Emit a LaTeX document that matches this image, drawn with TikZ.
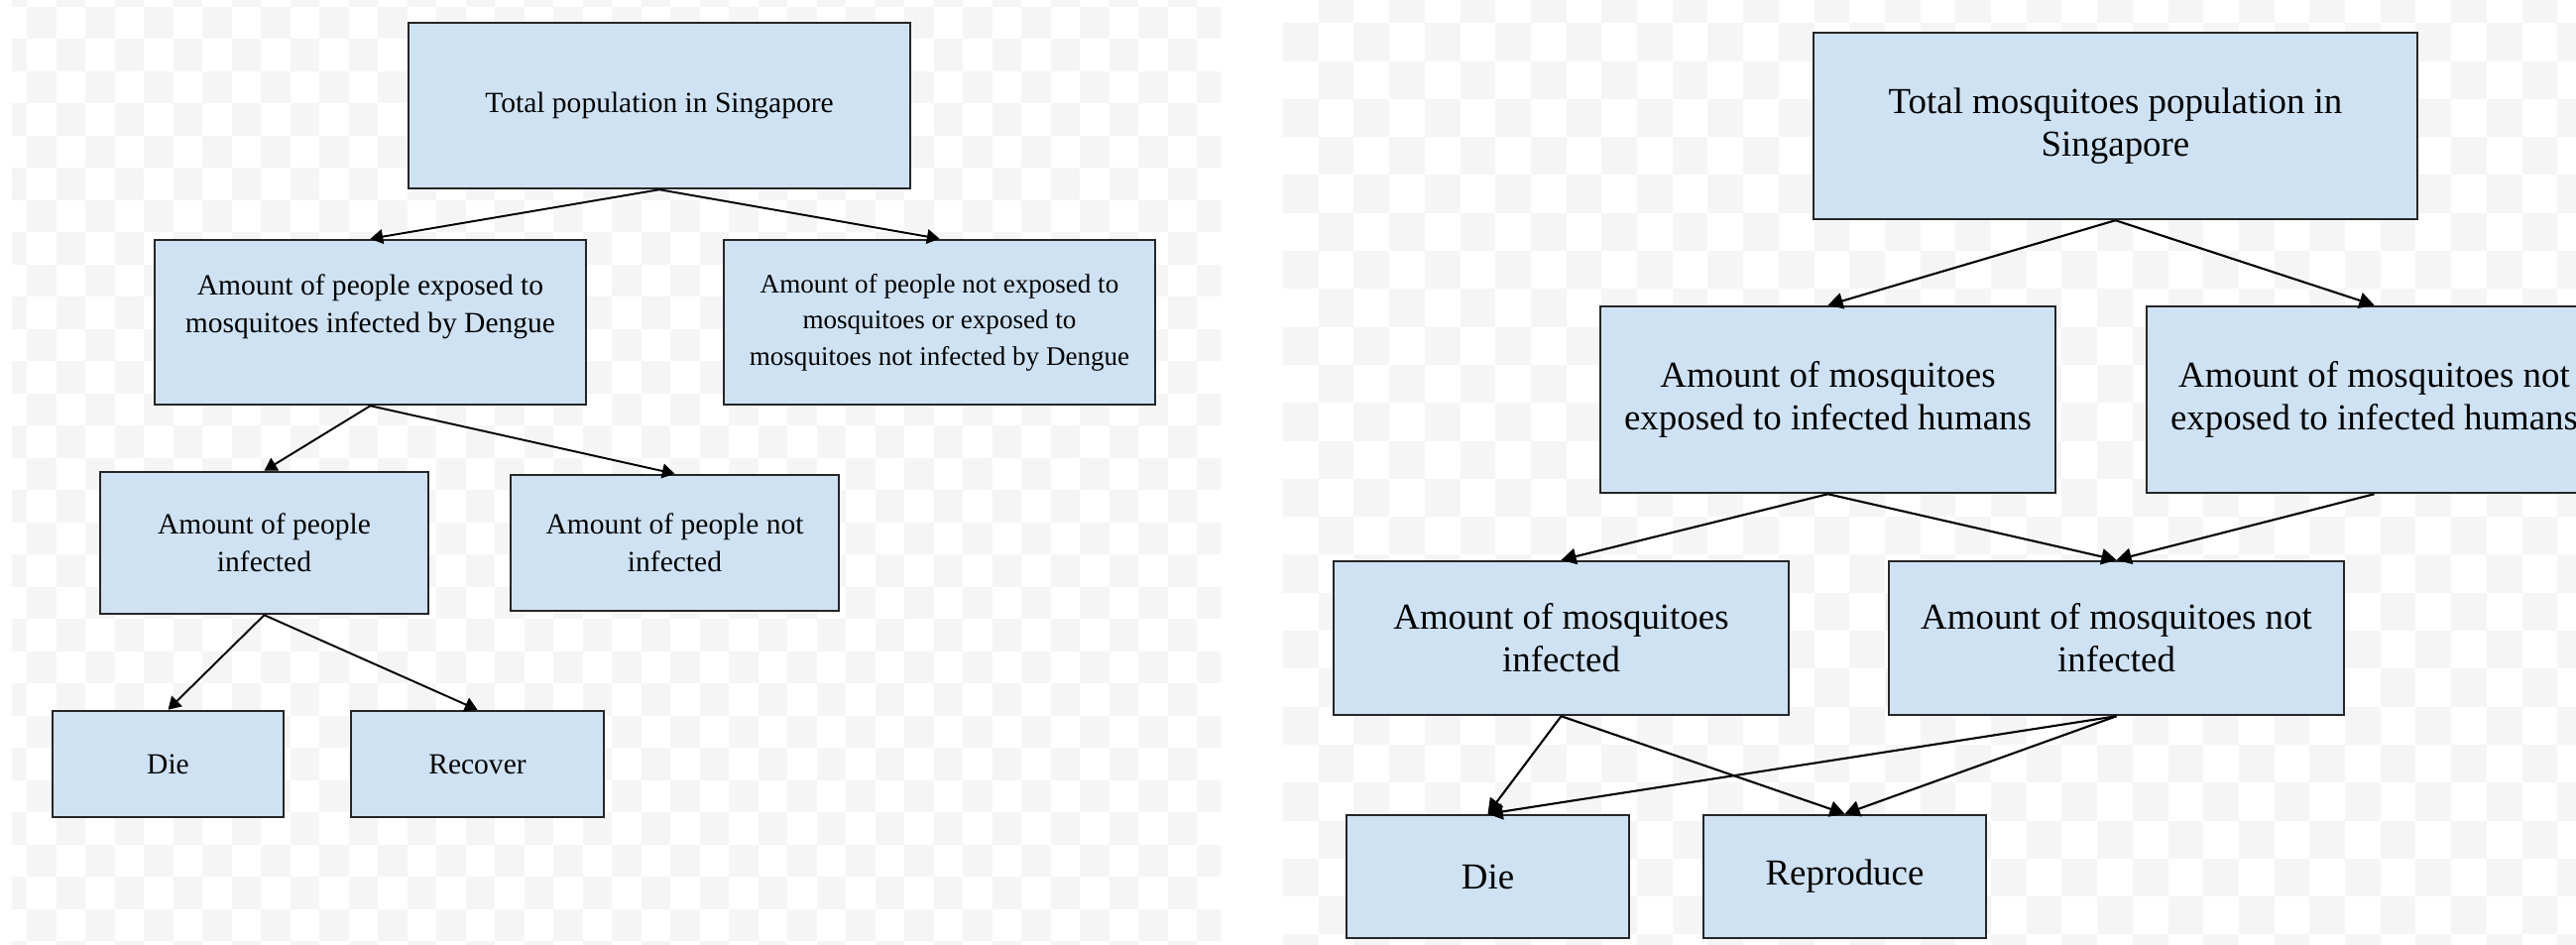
\documentclass[tikz,border=0pt]{standalone}
\usepackage{fontspec}
\setmainfont{Liberation Serif}
\usepackage{xcolor}
\usetikzlibrary{arrows.meta, positioning}

\definecolor{boxblue}{HTML}{CFE2F3}
\definecolor{checkgray}{HTML}{F5F5F5}

\tikzset{
  box/.style={draw=black!85, line width=0.7pt, fill=boxblue, align=center, inner sep=2pt},
  small/.style={box, font=\fontsize{8.4}{10.8}\selectfont},
  big/.style={box, font=\fontsize{10.5}{12.2}\selectfont},
  slink/.style={line width=0.55pt, -{Triangle[length=3.6pt, width=4.2pt]}},
  link/.style={line width=0.6pt, -{Triangle[length=4.3pt, width=4.6pt]}}
}

\begin{document}
\begin{tikzpicture}
  \useasboundingbox (0,0) rectangle (25.98,-9.53);
  \fill[white] (0,0) rectangle (25.98,-9.53);
  \begin{scope}
    \clip (0.12,0) rectangle (12.31,-9.53);
    \foreach \j in {0,...,30} \foreach \i in {0,2,...,42}
      \fill[checkgray] ({-0.025+(\i+mod(\j,2))*0.295},{0.255-\j*0.325}) rectangle ++(0.295,-0.325);
  \end{scope}
  \begin{scope}
    \clip (12.94,0) rectangle (25.98,-9.53);
    \foreach \j in {0,...,25} \foreach \i in {0,2,...,36}
      \fill[checkgray] ({12.94+(\i+1-mod(\j,2))*0.357},{0.15-\j*0.383}) rectangle ++(0.357,-0.383);
  \end{scope}

  % people
  \node[small, minimum width=5.06cm, minimum height=1.67cm] (tot) at (6.65,-1.065) {Total population in Singapore};
  \node[small, minimum width=4.35cm, minimum height=1.66cm, text depth=0.38cm] (pexp) at (3.735,-3.25) {Amount of people exposed to\\mosquitoes infected by Dengue};
  \node[small, font=\fontsize{7.7}{10.4}\selectfont, minimum width=4.35cm, minimum height=1.66cm] (pnot) at (9.475,-3.25) {Amount of people not exposed to\\mosquitoes or exposed to\\mosquitoes not infected by Dengue};
  \node[small, minimum width=3.31cm, minimum height=1.43cm] (pinf) at (2.665,-5.475) {Amount of people\\infected};
  \node[small, minimum width=3.31cm, minimum height=1.37cm] (pok) at (6.805,-5.475) {Amount of people not\\infected};
  \node[small, minimum width=2.33cm, minimum height=1.07cm] (pdie) at (1.695,-7.705) {Die};
  \node[small, minimum width=2.55cm, minimum height=1.07cm] (prec) at (4.815,-7.705) {Recover};

  \draw[slink] (tot.south) -- (pexp.north);
  \draw[slink] (tot.south) -- (pnot.north);
  \draw[slink] (pexp.south) -- (pinf.north);
  \draw[slink] (pexp.south) -- (pok.north);
  \draw[slink] (pinf.south) -- (pdie.north);
  \draw[slink] (pinf.south) -- (prec.north);

  % mosquitoes
  \node[big, minimum width=6.09cm, minimum height=1.88cm] (mtot) at (21.335,-1.27) {Total mosquitoes population in\\Singapore};
  \node[big, minimum width=4.59cm, minimum height=1.88cm] (mexp) at (18.435,-4.03) {Amount of mosquitoes\\exposed to infected humans};
  \node[big, minimum width=4.59cm, minimum height=1.88cm] (mnot) at (23.945,-4.03) {Amount of mosquitoes not\\exposed to infected humans};
  \node[big, minimum width=4.59cm, minimum height=1.55cm] (minf) at (15.745,-6.435) {Amount of mosquitoes\\infected};
  \node[big, minimum width=4.59cm, minimum height=1.55cm] (mok) at (21.345,-6.435) {Amount of mosquitoes not\\infected};
  \node[big, minimum width=2.85cm, minimum height=1.24cm] (mdie) at (15.005,-8.84) {Die};
  \node[big, minimum width=2.85cm, minimum height=1.24cm] (mrep) at (18.605,-8.84) {Reproduce};

  \draw[link] (mtot.south) -- (mexp.north);
  \draw[link] (mtot.south) -- (mnot.north);
  \draw[link] (mexp.south) -- (minf.north);
  \draw[link] (mexp.south) -- (mok.north);
  \draw[link] (mnot.south) -- (mok.north);
  \draw[link] (minf.south) -- (mdie.north);
  \draw[link] (minf.south) -- (mrep.north);
  \draw[link] (mok.south) -- (mdie.north);
  \draw[link] (mok.south) -- (mrep.north);
\end{tikzpicture}
\end{document}
